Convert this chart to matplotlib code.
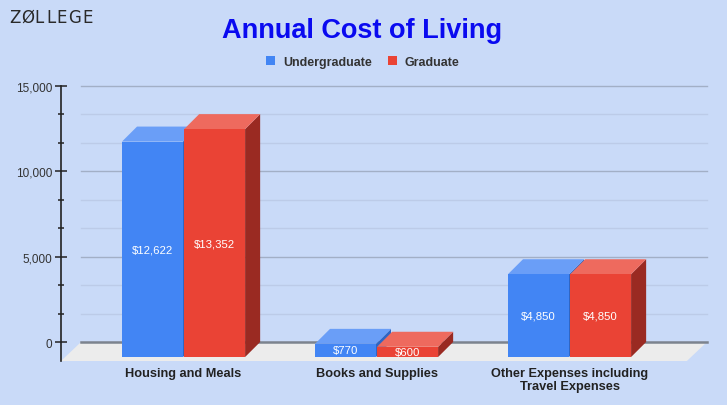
import matplotlib
matplotlib.use("Agg")
import matplotlib.pyplot as plt
import numpy as np
from matplotlib.patches import Polygon, Patch
from matplotlib.ticker import FuncFormatter, FixedLocator

plt.rcParams['font.family'] = ['Liberation Sans', 'DejaVu Sans']

# data
categories = ["Housing and Meals", "Books and Supplies",
              "Other Expenses including\nTravel Expenses"]
undergrad = [12622, 770, 4850]
graduate = [13352, 600, 4850]
series = ["Undergraduate", "Graduate"]
major_ticks = [0, 5000, 10000, 15000]

# colours
bg = "#c9daf8"
blue = ("#4285f4", "#6a9ef7", "#2f66c4")   # front, top, side
red = ("#ea4335", "#ee6a5e", "#9a2a22")

# pseudo 3d layout (x in category units, y in value units)
W = 0.316        # bar width
DX, DY = 0.078, 880      # bar depth offset
FDX, FDY = 0.104, 1113   # floor depth offset
floor_l, floor_r = -0.531, 2.712
ymax = 15000
grid_vals = np.linspace(0, ymax, 10)

fig = plt.figure(figsize=(7.27, 4.06), dpi=100, facecolor=bg)
ax = fig.add_axes([0, 0, 1, 1])
ax.set_facecolor(bg)
ax.set_xlim(-0.951, 2.816)
ax.set_ylim(-3691, 20097)

# back wall gridlines
for v in grid_vals[1:]:
    major = min(v % 5000, 5000 - v % 5000) < 1
    ax.plot([floor_l, floor_r], [v, v], color="#a2afc6" if major else "#bccbe8",
            lw=1.0, zorder=1)

# floor
floor = Polygon([(floor_l, 0), (floor_r, 0), (floor_r - FDX, -FDY), (floor_l - FDX, -FDY)],
                closed=True, facecolor="#ececec", edgecolor="none", zorder=2)
ax.add_patch(floor)
ax.plot([floor_l, floor_r], [0, 0], color="#7c838e", lw=1.8, zorder=2.5)


def bar3d(x0, v, cols, z):
    front, top, side = cols
    y0, y1 = -DY, v - DY
    ax.add_patch(Polygon([(x0 + W, y0), (x0 + W + DX, y0 + DY), (x0 + W + DX, y1 + DY), (x0 + W, y1)],
                         facecolor=side, edgecolor="none", zorder=z))
    ax.add_patch(Polygon([(x0, y1), (x0 + W, y1), (x0 + W + DX, y1 + DY), (x0 + DX, y1 + DY)],
                         facecolor=top, edgecolor="none", zorder=z))
    ax.add_patch(Polygon([(x0, y0), (x0 + W, y0), (x0 + W, y1), (x0, y1)],
                         facecolor=front, edgecolor="none", zorder=z))
    ax.text(x0 + W / 2, (y0 + y1) / 2, "${:,}".format(v), color="white",
            fontsize=8.2, ha="center", va="center", zorder=z + 0.1)


x = np.arange(len(categories))
for i in x:
    bar3d(i - W - 0.003, undergrad[i], blue, 3 + i)
    bar3d(i + 0.003, graduate[i], red, 3.5 + i)
    ax.text(i, -1450, categories[i], ha="center", va="top", fontsize=9.2,
            fontweight="bold", color="#222222", linespacing=1.12)

# y axis
for s in ["top", "right", "bottom"]:
    ax.spines[s].set_visible(False)
ax.spines["left"].set_position(("data", -0.635))
ax.spines["left"].set_bounds(-FDY, ymax)
ax.spines["left"].set_color("#222222")
ax.spines["left"].set_linewidth(1.2)
ax.set_xticks([])
ax.set_yticks(major_ticks)
ax.yaxis.set_minor_locator(FixedLocator(grid_vals))
ax.yaxis.set_major_formatter(FuncFormatter(lambda v, p: "{:,.0f}".format(v)))
ax.tick_params(axis="y", which="major", direction="inout", length=9, width=1.1,
               colors="#222222", labelsize=8.5, pad=2)
ax.tick_params(axis="y", which="minor", direction="inout", length=5, width=1.1,
               colors="#222222")
for t in ax.get_yticklabels():
    t.set_color("#333333")

# title, legend, logo
fig.text(0.498, 1 - 31 / 406, "Annual Cost of Living", ha="center", va="center",
         fontsize=19.5, fontweight="bold", color="#0a0af0")
handles = [Patch(facecolor=blue[0], label=series[0]), Patch(facecolor=red[0], label=series[1])]
fig.legend(handles=handles, loc="center", bbox_to_anchor=(0.499, 1 - 63 / 406), ncol=2,
           frameon=False, handlelength=0.75, handleheight=0.75, handletextpad=0.6,
           columnspacing=1.3, prop={"weight": "bold", "size": 9}, labelcolor="#333333")

logo = "ZØLLEGE"
logo_x = [15, 27.5, 39.5, 50.5, 62, 75, 88]
for ch, lx in zip(logo, logo_x):
    fig.text(lx / 727, 1 - 18 / 406, ch, ha="center", va="center",
             fontsize=12, color="#2a2a2a", family="DejaVu Sans")

fig.savefig("out.png", dpi=100, facecolor=bg)
